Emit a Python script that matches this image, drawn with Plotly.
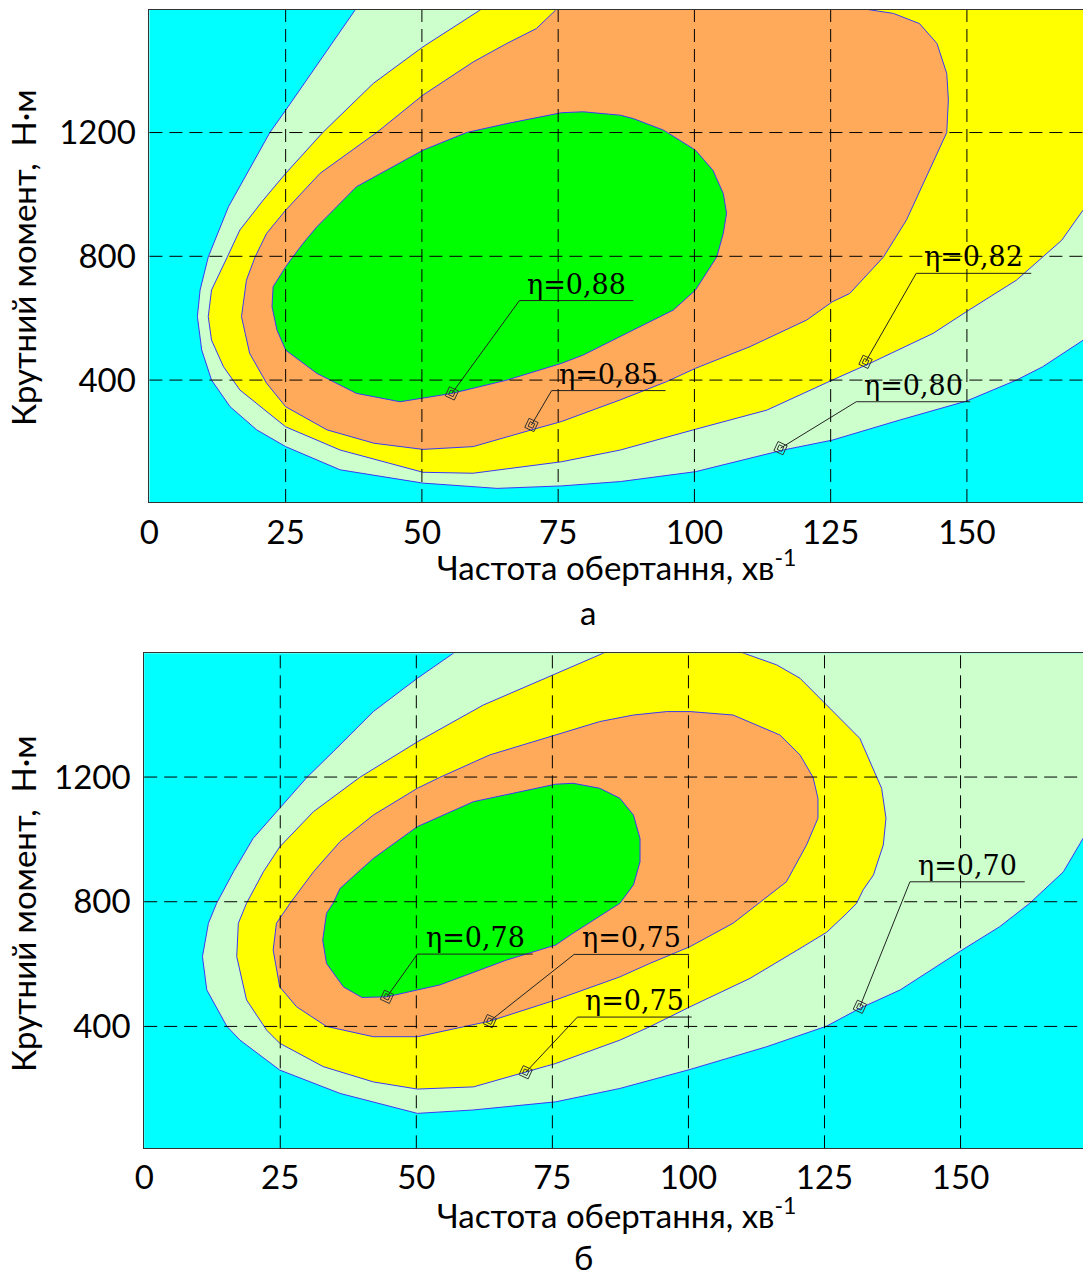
import plotly.graph_objects as go

# ---------------- shared axis data ----------------
x_ticks = [0, 25, 50, 75, 100, 125, 150]
y_ticks = [400, 800, 1200]
x_title = "Частота обертання, хв<sup>-1</sup>"
y_title = "Крутний момент,  Н·м"

# ---------------- chart (а): contour boundaries (speed n, torque M) ----------------
a80_n = [40.0, 37.7, 25.0, 22.1, 14.5, 10.8, 9.3, 8.8, 9.6, 11.4, 14.8, 19.7, 25.0, 35.0, 50.2, 63.8, 75.6, 86.4,
         100.2, 116.3, 125.3, 137.7, 149.9, 159.1, 163.9, 171.3, 176.0]
a80_m = [1660, 1595, 1272, 1200, 960, 798, 691, 605, 497, 400, 314, 239, 185, 110, 67, 50, 58, 72,
         104, 174, 206, 271, 332, 400, 443, 529, 583]

a82_n = [64.0, 60.6, 50.2, 41.1, 31.8, 25.0, 20.9, 16.6, 14.3, 11.4, 10.8, 11.4, 13.6, 16.6, 25.0, 35.0, 50.2, 59.4,
         75.6, 86.4, 100.2, 113.3, 125.3, 132.2, 143.8, 149.9, 159.1, 163.9, 167.4, 171.3, 174.0]
a82_m = [1640, 1595, 1477, 1359, 1200, 1068, 982, 885, 798, 691, 605, 529, 443, 368, 249, 174, 102, 99,
         136, 174, 241, 303, 400, 454, 551, 621, 723, 798, 852, 949, 1016]

a85_n = [77.0, 74.5, 71.0, 65.6, 59.4, 50.2, 41.7, 31.3, 25.0, 21.5, 19.4, 17.8, 16.9, 18.4, 21.5, 25.0, 32.6, 41.2,
         50.2, 59.4, 70.1, 75.6, 86.4, 94.9, 100.2, 110.2, 120.6, 125.3, 128.5, 134.7, 138.9, 142.6, 145.1, 146.3,
         146.6, 146.3, 144.5, 141.3, 136.5, 132.8, 128.0]
a85_m = [1640, 1595, 1536, 1488, 1428, 1321, 1200, 1068, 949, 874, 798, 723, 605, 486, 390, 314, 239, 196,
         176, 185, 239, 266, 336, 395, 438, 508, 594, 653, 680, 798, 917, 1057, 1154, 1200,
         1305, 1391, 1488, 1552, 1585, 1595, 1608]

a88_n = [26.1, 28.2, 30.7, 38.0, 50.2, 58.2, 65.6, 75.6, 79.6, 86.4, 88.8, 94.3, 100.2, 103.4, 105.3, 105.9, 105.3,
         104.1, 100.2, 96.1, 88.8, 82.6, 79.6, 75.6, 65.6, 55.5, 50.2, 46.0, 38.0, 30.7, 25.0, 23.4, 22.5, 22.7, 25.0,
         26.1]
a88_m = [793, 842, 895, 1025, 1143, 1200, 1229, 1264, 1267, 1256, 1245, 1208, 1143, 1078, 1003, 939, 874,
         798, 691, 626, 562, 508, 481, 454, 400, 357, 341, 330, 357, 422, 497, 562, 637, 702, 766,
         793]

# labels of chart (а): text, point on contour, knee of leader, end of underline
a_lab_text = ["η=0,88", "η=0,85", "η=0,82", "η=0,80"]
a_lab_pn = [55.5, 70.1, 131.4, 115.8]
a_lab_pm = [357, 255, 459, 180]
a_lab_kn = [67.9, 73.8, 140.7, 129.7]
a_lab_km = [657, 366, 745, 330]
a_lab_en = [88.8, 94.7, 161.8, 150.6]

# ---------------- chart (б): contour boundaries ----------------
b70_n = [60.5, 56.8, 50.2, 42.1, 34.7, 29.9, 24.9, 20.0, 16.4, 13.3, 11.8, 10.7, 11.5, 15.2, 17.6, 24.9, 36.0, 50.2,
         60.5, 75.6, 87.4, 100.3, 114.4, 125.4, 131.5, 138.9, 150.0, 157.2, 162.7, 168.9, 172.5, 175.0]
b70_m = [1640, 1597, 1517, 1410, 1281, 1199, 1100, 1003, 896, 795, 731, 624, 517, 400, 356, 260, 185, 121,
         132, 158, 201, 262, 335, 401, 458, 517, 642, 720, 795, 896, 1003, 1077]

b75o_n = [90.0, 84.3, 75.6, 62.3, 50.2, 39.6, 31.1, 24.9, 21.9, 18.8, 17.3, 17.0, 18.8, 22.5, 24.9, 32.9, 42.1, 50.2,
          60.5, 70.1, 75.6, 87.4, 92.9, 100.3, 111.3, 120.5, 125.4, 129.1, 130.9, 132.1, 134.0, 135.8, 136.3, 135.5,
          134.6, 131.5, 125.4, 120.5, 116.2, 110.7, 106.5]
b75o_m = [1640, 1597, 1533, 1431, 1313, 1199, 1089, 976, 896, 795, 731, 624, 485, 388, 346, 271, 222, 199,
          206, 253, 281, 356, 399, 463, 554, 650, 702, 763, 795, 838, 886, 982, 1068, 1164,
          1199, 1324, 1431, 1517, 1560, 1594, 1620]

b75i_n = [100.3, 96.0, 89.9, 87.4, 83.7, 75.6, 63.5, 54.3, 50.2, 42.1, 36.0, 31.1, 26.8, 24.3, 23.7, 24.9, 28.0, 33.5,
          42.1, 50.2, 63.5, 75.6, 87.4, 92.9, 100.3, 108.2, 114.4, 118.0, 121.7, 123.8, 123.8, 122.9, 120.5, 116.8,
          108.2, 100.3]
b75i_m = [1410, 1410, 1399, 1390, 1378, 1335, 1271, 1199, 1164, 1078, 993, 896, 795, 731, 645, 527, 463, 400,
          367, 367, 417, 485, 559, 602, 656, 731, 816, 864, 982, 1068, 1132, 1199, 1271, 1335,
          1399, 1410]

b78_n = [34.7, 36.0, 42.1, 50.2, 60.5, 75.6, 78.8, 83.7, 87.4, 89.9, 91.1, 91.1, 89.9, 87.4, 78.8, 75.6, 66.6, 54.3,
         50.2, 44.6, 40.0, 36.6, 33.5, 32.8, 33.5, 34.7]
b78_m = [795, 843, 939, 1041, 1121, 1177, 1180, 1164, 1132, 1078, 1003, 928, 854, 795, 699, 661, 613, 533,
         517, 495, 493, 527, 602, 677, 763, 795]

b_lab_text = ["η=0,78", "η=0,75", "η=0,75", "η=0,70"]
b_lab_pn = [44.6, 63.5, 70.1, 131.5]
b_lab_pm = [495, 417, 253, 463]
b_lab_kn = [50.2, 79.0, 79.6, 140.7]
b_lab_km = [632, 631, 430, 864]
b_lab_en = [71.4, 100.1, 100.6, 161.8]

# ---------------- styling ----------------
C_CYAN = "#00FFFF"
C_LGREEN = "#CCFFCC"
C_YELLOW = "#FFFF00"
C_ORANGE = "#FFAA5A"
C_GREEN = "#00FF00"
C_LINE = "#3a3af2"
SANS = "Lato"
SERIF = "DejaVu Serif"

A_XRANGE = [0, 171.3]
A_YRANGE = [6, 1596]
B_XRANGE = [0, 172.5]
B_YRANGE = [9, 1597]

fig = go.Figure()


def add_region(ns, ms, color, xa, ya, xrange, yrange, outer):
    xs, ys = list(ns), list(ms)
    if outer:
        n_out = xrange[1] * 1.3
        m_out = yrange[1] * 1.3
        xs += [n_out, n_out, xs[0]]
        ys += [ys[-1], m_out, m_out]
    fig.add_trace(go.Scatter(x=xs, y=ys, mode="lines", fill="toself", fillcolor=color,
                             line=dict(color=C_LINE, width=1), hoverinfo="skip",
                             showlegend=False, xaxis=xa, yaxis=ya))


def add_labels(texts, pn, pm, kn, km, en, xa, ya):
    for i, t in enumerate(texts):
        fig.add_trace(go.Scatter(x=[pn[i], kn[i], en[i]], y=[pm[i], km[i], km[i]], mode="lines",
                                 line=dict(color="#222222", width=1), hoverinfo="skip",
                                 showlegend=False, xaxis=xa, yaxis=ya))
        fig.add_annotation(x=(kn[i] + en[i]) / 2, y=km[i], xref=xa, yref=ya, text=t,
                           showarrow=False, xanchor="center", yanchor="bottom", yshift=-1,
                           font=dict(family=SERIF, size=27, color="black"))
    fig.add_trace(go.Scatter(x=pn, y=pm, mode="markers",
                             marker=dict(symbol="square-open", size=10, angle=25,
                                         color="#333333", line=dict(width=1)),
                             hoverinfo="skip", showlegend=False, xaxis=xa, yaxis=ya))
    fig.add_trace(go.Scatter(x=pn, y=pm, mode="markers",
                             marker=dict(symbol="square-open", size=5, angle=25,
                                         color="#333333", line=dict(width=1)),
                             hoverinfo="skip", showlegend=False, xaxis=xa, yaxis=ya))


# chart (а)
add_region(a80_n, a80_m, C_LGREEN, "x", "y", A_XRANGE, A_YRANGE, True)
add_region(a82_n, a82_m, C_YELLOW, "x", "y", A_XRANGE, A_YRANGE, True)
add_region(a85_n, a85_m, C_ORANGE, "x", "y", A_XRANGE, A_YRANGE, False)
add_region(a88_n, a88_m, C_GREEN, "x", "y", A_XRANGE, A_YRANGE, False)
add_labels(a_lab_text, a_lab_pn, a_lab_pm, a_lab_kn, a_lab_km, a_lab_en, "x", "y")

# chart (б)
add_region(b70_n, b70_m, C_LGREEN, "x2", "y2", B_XRANGE, B_YRANGE, True)
add_region(b75o_n, b75o_m, C_YELLOW, "x2", "y2", B_XRANGE, B_YRANGE, False)
add_region(b75i_n, b75i_m, C_ORANGE, "x2", "y2", B_XRANGE, B_YRANGE, False)
add_region(b78_n, b78_m, C_GREEN, "x2", "y2", B_XRANGE, B_YRANGE, False)
add_labels(b_lab_text, b_lab_pn, b_lab_pm, b_lab_kn, b_lab_km, b_lab_en, "x2", "y2")

# dashed grid drawn above the filled areas
for xa, ya, xr, yr in (("x", "y", A_XRANGE, A_YRANGE), ("x2", "y2", B_XRANGE, B_YRANGE)):
    for t in x_ticks:
        if xr[0] < t < xr[1]:
            fig.add_shape(type="line", xref=xa, yref=ya + " domain", x0=t, x1=t, y0=0, y1=1,
                          line=dict(color="black", width=1, dash="13px,7px"), layer="above")
    for t in y_ticks:
        if yr[0] < t < yr[1]:
            fig.add_shape(type="line", xref=xa + " domain", yref=ya, x0=0, x1=1, y0=t, y1=t,
                          line=dict(color="black", width=1, dash="13px,7px"), layer="above")

W, H = 1083, 1278
axis_common = dict(showgrid=False, zeroline=False, showline=True, mirror=True, linecolor="#333333",
                   linewidth=1, ticks="", layer="above traces", automargin=False,
                   tickfont=dict(family=SANS, size=33, color="black"))

fig.update_layout(
    width=W, height=H, margin=dict(l=0, r=0, t=0, b=0, pad=0, autoexpand=False),
    paper_bgcolor="white", plot_bgcolor=C_CYAN, showlegend=False,
    xaxis=dict(domain=[149.4 / W, 1.0], range=A_XRANGE, tickvals=x_ticks, anchor="y",
               ticklabelstandoff=1, **axis_common),
    yaxis=dict(domain=[1 - 502 / H, 1 - 10 / H], range=A_YRANGE, tickvals=y_ticks, anchor="x",
               ticklabelstandoff=6, **axis_common),
    xaxis2=dict(domain=[144.2 / W, 1.0], range=B_XRANGE, tickvals=x_ticks, anchor="y2",
                ticklabelstandoff=0, **axis_common),
    yaxis2=dict(domain=[1 - 1148.3 / H, 1 - 653.3 / H], range=B_YRANGE, tickvals=y_ticks, anchor="x2",
                ticklabelstandoff=6, **axis_common),
)

title_font = dict(family=SANS, size=33, color="black")
for yc in (258, 904):
    fig.add_annotation(x=23 / W, y=1 - yc / H, xref="paper", yref="paper", text=y_title, textangle=-90,
                       showarrow=False, xanchor="center", yanchor="middle", font=title_font)
for yc in (565, 1213):
    fig.add_annotation(x=616 / W, y=1 - yc / H, xref="paper", yref="paper", text=x_title,
                       showarrow=False, xanchor="center", yanchor="middle", font=title_font)
fig.add_annotation(x=588 / W, y=1 - 612 / H, xref="paper", yref="paper", text="а",
                   showarrow=False, xanchor="center", yanchor="middle", font=title_font)
fig.add_annotation(x=583 / W, y=0, xref="paper", yref="paper", text="б", borderpad=0,
                   showarrow=False, xanchor="center", yanchor="bottom", font=title_font)

fig.write_html("out.html", config={"displayModeBar": False},
               post_script="document.body.style.margin='0';document.body.style.overflow='hidden';")
